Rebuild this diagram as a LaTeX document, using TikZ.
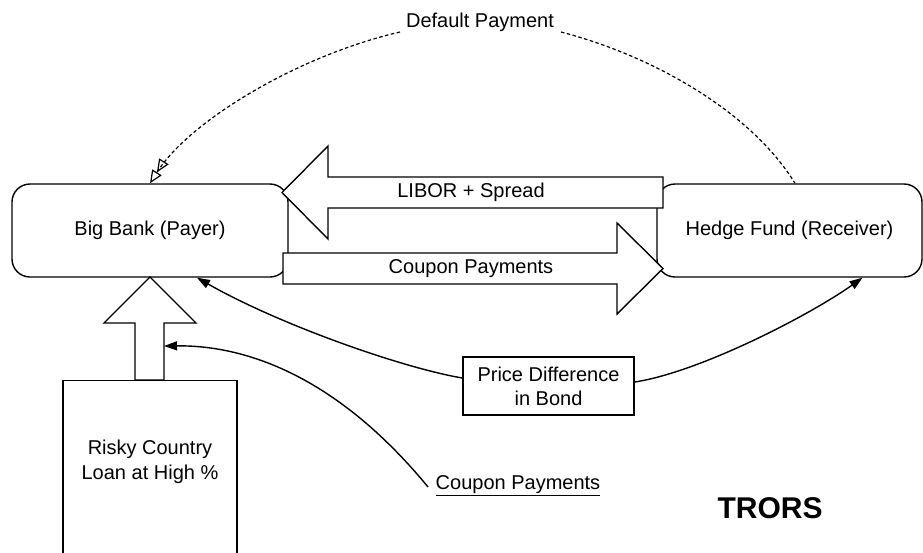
\documentclass[tikz,border=0pt]{standalone}
\usepackage{fontspec}
\setmainfont{Liberation Sans}
\usetikzlibrary{arrows.meta}
\begin{document}
\begin{tikzpicture}[x=1pt, y=-1pt, line width=1.4pt,
  font=\fontsize{20}{24}\selectfont,
  rbox/.style={draw, rounded corners=18pt, fill=white, minimum height=93pt, inner sep=0pt},
  blockarrow/.style={draw, fill=white, line join=miter},
  conn/.style={-{Triangle[length=13pt,width=9pt]}},
  dconn/.style={line width=1.2pt, dash pattern=on 3.5pt off 2.5pt},
  opentip/.style={-{Triangle[open,length=13pt,width=11pt]Triangle[open,length=13pt,width=11pt]}}]
\useasboundingbox (0,0) rectangle (923,552);
\clip (0,0) rectangle (923,552);
% boxes
\node[rbox, minimum width=276pt] (bb) at (150,230.5) {Big Bank (Payer)};
\node[rbox, minimum width=265pt] (hf) at (789.5,230.5) {Hedge Fund (Receiver)};
% block arrows
\draw[blockarrow] (282,192.5) -- (328,146) -- (328,177) -- (663,177) -- (663,208) -- (328,208) -- (328,239) -- cycle;
\node (libor) at (471,192) {LIBOR + Spread};
\draw[blockarrow] (283,253) -- (617,253) -- (617,223) -- (663,268.5) -- (617,314) -- (617,284) -- (283,284) -- cycle;
\node (coup) at (471,268.5) {Coupon Payments};
\draw[blockarrow] (150,277) -- (196,323) -- (164,323) -- (164,380) -- (135,380) -- (135,323) -- (104,323) -- cycle;
\coordinate (upr) at (164,346);
% risky box
\node[draw, minimum width=174pt, minimum height=220pt, anchor=north] (risky) at (150,380) {};
\node[align=center, font=\fontsize{20}{25}\selectfont] (riskytxt) at (150,461.5) {Risky Country\\Loan at High \%};
% price difference
\node[draw, fill=white, minimum width=171pt, minimum height=58pt, inner sep=0pt, align=center] (price) at (548.5,386) {Price Difference\\in Bond};
% connectors
\draw[conn] ([yshift=8pt]price.west) .. controls (403,368) and (280,325) .. ([xshift=47pt]bb.south);
\draw[conn] ([yshift=4pt]price.east) .. controls (700,372) and (810,315) .. ([xshift=73pt]hf.south);
\node[inner sep=0pt] (cp) at (518,486) {\underline{Coupon Payments}};
\draw[conn] ([xshift=-7pt,yshift=-1pt]cp.west) .. controls (340,380) and (250,345) .. (upr);
% default payment
\node (dp) at (480,22) {Default Payment};
\draw[dconn, opentip] ([xshift=-2pt,yshift=-10pt]dp.west) .. controls (300,55) and (190,120) .. (bb.north);
\draw[dconn] ([xshift=3pt,yshift=-10pt]dp.east) .. controls (650,55) and (750,110) .. ([xshift=5.5pt]hf.north);
% title
\node[font=\fontsize{30}{36}\selectfont\bfseries] (tr) at (770,508) {TRORS};
\end{tikzpicture}
\end{document}
